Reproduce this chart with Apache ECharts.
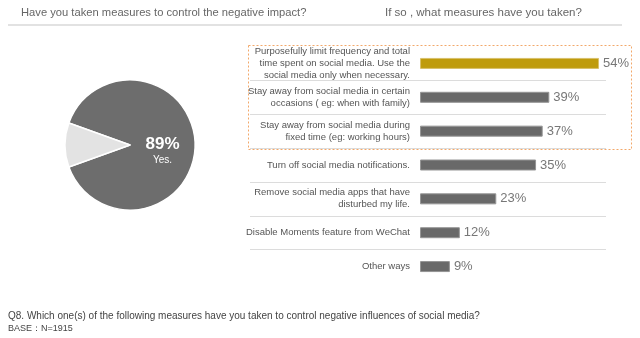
<!DOCTYPE html>
<html><head><meta charset="utf-8">
<script src="https://cdn.jsdelivr.net/npm/echarts@6/dist/echarts.min.js"></script>
<style>html,body{margin:0;padding:0;background:#fff}#c{width:640px;height:338px}</style>
</head><body><div id="c"></div>
<script>
const pieNames = ['Yes.', 'No'];
const pieValues = [89, 11];
const categories = [
  'Purposefully limit frequency and total\ntime spent on social media. Use the\nsocial media only when necessary.',
  'Stay away from social media in certain\noccasions ( eg: when with family)',
  'Stay away from social media during\nfixed time (eg: working hours)',
  'Turn off social media notifications.',
  'Remove social media apps that have\ndisturbed my life.',
  'Disable Moments feature from WeChat',
  'Other ways'
];
const values = [54, 39, 37, 35, 23, 12, 9];
const headerLeft = 'Have you taken measures to control the negative impact?';
const headerRight = 'If so , what measures have you taken?';
const footer1 = 'Q8. Which one(s) of the following measures have you taken to control negative influences of social media?';
const footer2 = 'BASE：N=1915';

const chart = echarts.init(document.getElementById('c'));
const FONT = '"Liberation Sans", Arial, sans-serif';
chart.setOption({
  animation: false,
  textStyle: {fontFamily: FONT},
  title: [
    {text: headerLeft, left: 21, top: 7, padding: 0, textStyle: {fontSize: 11.2, fontWeight: 'normal', color: '#666', fontFamily: FONT}},
    {text: headerRight, left: 385, top: 7, padding: 0, textStyle: {fontSize: 11.5, fontWeight: 'normal', color: '#666', fontFamily: FONT}},
    {text: footer1, left: 8, top: 311, padding: 0, textStyle: {fontSize: 10, fontWeight: 'normal', color: '#444', fontFamily: FONT}},
    {text: footer2, left: 8, top: 324, padding: 0, textStyle: {fontSize: 9, fontWeight: 'normal', color: '#444', fontFamily: FONT}}
  ],
  graphic: [
    {type: 'line', shape: {x1: 8, y1: 25, x2: 622, y2: 25}, style: {stroke: '#e2e2e2', lineWidth: 2}},
    {type: 'rect', shape: {x: 248.5, y: 45.5, width: 383, height: 104}, style: {fill: 'none', stroke: '#f2a86a', lineWidth: 1, lineDash: [2, 2]}}
  ],
  grid: {left: 250, right: 34, top: 46.5, height: 237, containLabel: false},
  xAxis: {type: 'value', min: -51.3, max: 56.1, show: false},
  yAxis: {
    type: 'category', data: categories, inverse: true, offset: -170,
    axisLine: {show: false}, axisTick: {show: false},
    axisLabel: {margin: 10, fontSize: 9.5, color: '#555', lineHeight: 12, align: 'right'},
    splitLine: {show: true, showMinLine: false, showMaxLine: false, lineStyle: {color: '#dcdcdc', width: 1}}
  },
  series: [
    {
      type: 'pie', center: [130, 145], radius: 65, startAngle: 160.2, clockwise: true,
      silent: true,
      data: pieNames.map((n, i) => ({
        name: n, value: pieValues[i],
        itemStyle: i === 0 ? {color: '#6d6d6d', borderColor: '#fff', borderWidth: 1.5} : {color: '#e3e3e3', borderColor: '#fff', borderWidth: 1.5},
        label: {show: i === 0}
      })),
      label: {
        position: 'inner', formatter: p => '{a|' + p.value + '%}\n{b|' + p.name + '}',
        padding: [12, 6, 0, 0],
        rich: {
          a: {fontSize: 17, fontWeight: 'bold', color: '#fff', lineHeight: 18, fontFamily: FONT},
          b: {fontSize: 10, color: '#fff', lineHeight: 14, fontFamily: FONT}
        }
      },
      labelLine: {show: false}
    },
    {
      type: 'bar', data: values.map((v, i) => ({
        value: v,
        itemStyle: i === 0 ? {color: '#bf9b0c', borderColor: '#d9c06a', borderWidth: 1} : {color: '#696969', borderColor: '#959595', borderWidth: 1}
      })),
      barWidth: 11,
      label: {show: true, position: 'right', distance: 4, formatter: '{c}%', fontSize: 13, color: '#777'}
    }
  ]
});
</script></body></html>
